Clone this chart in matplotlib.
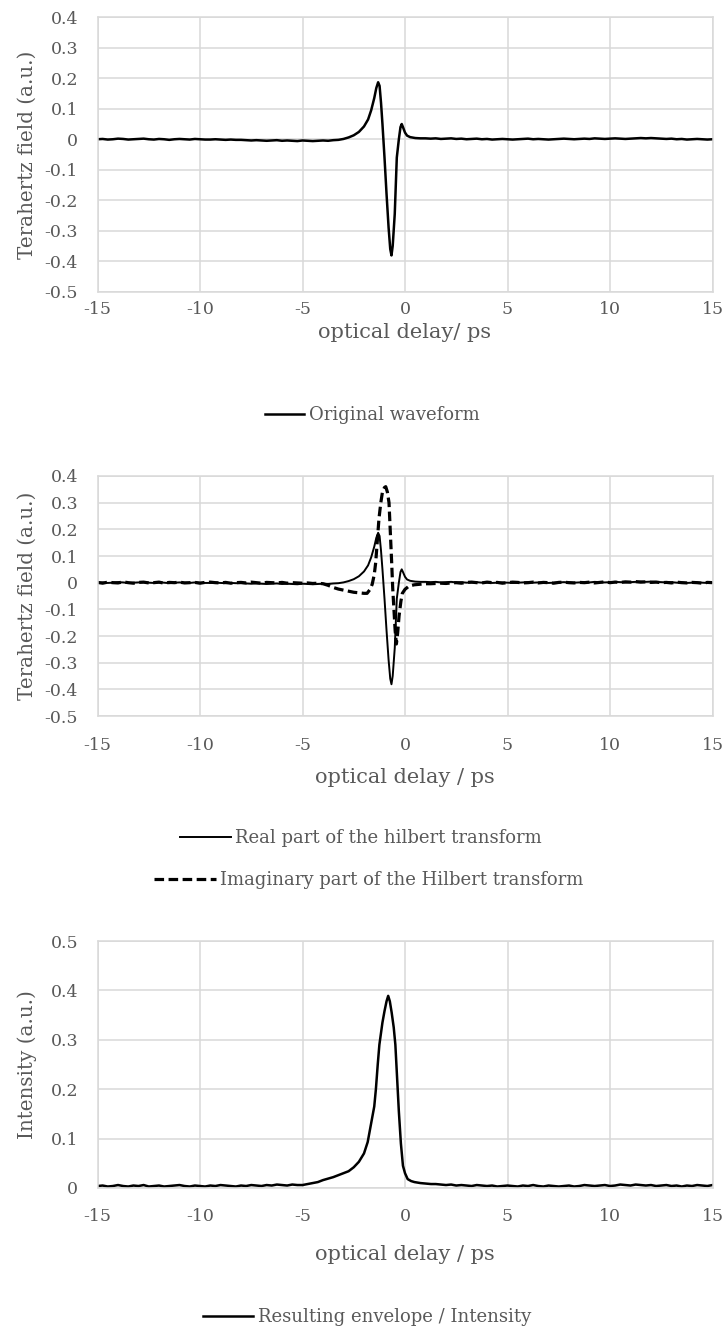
import numpy as np
import matplotlib
matplotlib.use("Agg")
import matplotlib.pyplot as plt
from matplotlib.lines import Line2D

plt.rcParams['font.family'] = ['DejaVu Serif']
plt.rcParams['axes.unicode_minus'] = False

# ---- original waveform (also the real part of the Hilbert transform) ----
wave_left_t = np.linspace(-15, -3.25, 48)
wave_left_y = [0.000, 0.001, -0.001, 0.000, 0.002, 0.001, -0.001, 0.000, 0.001, 0.002,
               0.000, -0.001, 0.001, 0.000, -0.002, 0.000, 0.001, 0.000, -0.001, 0.001,
               0.000, -0.001, -0.001, 0.000, -0.001, -0.002, -0.001, -0.002, -0.002, -0.003,
               -0.004, -0.003, -0.004, -0.005, -0.004, -0.003, -0.005, -0.004, -0.005, -0.006,
               -0.004, -0.005, -0.006, -0.005, -0.004, -0.005, -0.003, -0.002]
wave_pulse_t = [-3.0, -2.75, -2.5, -2.25, -2.0, -1.8, -1.65, -1.5, -1.4, -1.31,
                -1.24, -1.17, -1.1, -1.0, -0.9, -0.8, -0.72, -0.66, -0.6, -0.5,
                -0.4, -0.3, -0.22, -0.16, -0.1, 0.0, 0.1, 0.25, 0.5, 0.75]
wave_pulse_y = [0.001, 0.006, 0.013, 0.024, 0.042, 0.065, 0.095, 0.135, 0.168, 0.187,
                0.175, 0.12, 0.05, -0.06, -0.18, -0.29, -0.36, -0.381, -0.35, -0.245,
                -0.06, 0.0, 0.04, 0.05, 0.04, 0.022, 0.012, 0.007, 0.004, 0.003]
wave_right_t = np.linspace(1, 15, 57)
wave_right_y = [0.003, 0.002, 0.003, 0.001, 0.002, 0.003, 0.001, 0.002, 0.000, 0.001,
                0.002, 0.000, 0.001, -0.001, 0.000, 0.001, 0.000, -0.001, 0.000, 0.001,
                0.002, 0.000, 0.001, 0.000, -0.001, 0.000, 0.001, 0.002, 0.001, 0.000,
                0.001, 0.002, 0.001, 0.003, 0.002, 0.001, 0.002, 0.003, 0.002, 0.001,
                0.002, 0.003, 0.004, 0.003, 0.004, 0.003, 0.002, 0.001, 0.002, 0.000,
                0.001, -0.001, 0.000, 0.001, 0.000, -0.001, 0.000]

# ---- imaginary part of the Hilbert transform ----
imag_left_t = np.linspace(-15, -4, 45)
imag_left_y = [0.001, -0.002, 0.002, 0.000, -0.001, 0.003, 0.000, -0.002, 0.001, 0.002,
               -0.001, 0.000, 0.002, -0.002, 0.001, 0.000, 0.002, -0.001, 0.000, 0.001,
               -0.002, 0.001, 0.002, 0.000, -0.001, 0.001, -0.002, 0.000, 0.001, -0.001,
               0.002, 0.000, -0.002, 0.001, 0.000, -0.001, 0.001, -0.002, 0.000, -0.001,
               -0.002, -0.001, -0.003, -0.002, -0.004]
imag_pulse_t = [-3.75, -3.5, -3.25, -3.0, -2.75, -2.5, -2.25, -2.0, -1.85, -1.7,
                -1.6, -1.5, -1.43, -1.35, -1.27, -1.18, -1.1, -1.0, -0.94, -0.86,
                -0.78, -0.72, -0.65, -0.6, -0.54, -0.48, -0.42, -0.36, -0.29, -0.2,
                -0.13, 0.0, 0.19, 0.45, 0.7, 1.0]
imag_pulse_y = [-0.01, -0.018, -0.024, -0.028, -0.032, -0.036, -0.038, -0.04, -0.04, -0.025,
                -0.006, 0.03, 0.075, 0.16, 0.24, 0.30, 0.34, 0.357, 0.36, 0.34,
                0.30, 0.20, 0.075, -0.02, -0.10, -0.18, -0.23, -0.19, -0.125, -0.07,
                -0.04, -0.025, -0.013, -0.008, -0.006, -0.004]
imag_right_t = np.linspace(1.25, 15, 56)
imag_right_y = [-0.004, -0.003, -0.002, -0.003, -0.001, 0.000, -0.002, 0.001, 0.002, 0.000,
                -0.001, 0.002, 0.000, 0.001, -0.002, 0.000, 0.002, 0.001, -0.001, 0.000,
                0.002, -0.001, 0.001, 0.000, -0.002, 0.001, 0.002, 0.000, -0.001, 0.001,
                0.000, 0.002, -0.001, 0.001, 0.003, 0.000, 0.002, 0.001, 0.003, 0.002,
                0.004, 0.002, 0.003, 0.001, 0.002, 0.000, 0.001, -0.001, 0.002, 0.000,
                -0.001, 0.001, 0.000, -0.002, 0.001, 0.000]

# ---- resulting envelope / intensity ----
env_left_t = np.linspace(-15, -5.25, 40)
env_left_y = [0.004, 0.005, 0.003, 0.004, 0.006, 0.004, 0.003, 0.005, 0.004, 0.006,
              0.003, 0.004, 0.005, 0.003, 0.004, 0.005, 0.006, 0.004, 0.003, 0.005,
              0.004, 0.003, 0.005, 0.004, 0.006, 0.005, 0.004, 0.003, 0.005, 0.004,
              0.006, 0.005, 0.004, 0.006, 0.005, 0.007, 0.006, 0.005, 0.007, 0.006]
env_pulse_t = [-5.0, -4.75, -4.5, -4.25, -4.0, -3.75, -3.5, -3.25, -3.0, -2.75,
               -2.5, -2.25, -2.0, -1.82, -1.7, -1.58, -1.5, -1.42, -1.33, -1.25,
               -1.1, -1.0, -0.9, -0.82, -0.74, -0.65, -0.55, -0.47, -0.4, -0.3,
               -0.2, -0.1, 0.0, 0.13, 0.3, 0.46, 0.75, 1.0, 1.27]
env_pulse_y = [0.006, 0.008, 0.010, 0.012, 0.016, 0.019, 0.022, 0.026, 0.030, 0.034,
               0.042, 0.053, 0.070, 0.093, 0.120, 0.147, 0.165, 0.200, 0.250, 0.290,
               0.335, 0.358, 0.378, 0.389, 0.378, 0.355, 0.325, 0.290, 0.235, 0.155,
               0.090, 0.045, 0.030, 0.018, 0.014, 0.012, 0.010, 0.009, 0.008]
env_right_t = np.linspace(1.5, 15, 55)
env_right_y = [0.008, 0.007, 0.006, 0.007, 0.005, 0.006, 0.005, 0.004, 0.006, 0.005,
               0.004, 0.005, 0.003, 0.004, 0.005, 0.004, 0.003, 0.005, 0.004, 0.006,
               0.004, 0.003, 0.005, 0.004, 0.003, 0.004, 0.005, 0.003, 0.004, 0.006,
               0.005, 0.004, 0.005, 0.006, 0.004, 0.005, 0.007, 0.006, 0.005, 0.007,
               0.006, 0.005, 0.006, 0.004, 0.005, 0.006, 0.004, 0.005, 0.003, 0.005,
               0.004, 0.006, 0.005, 0.004, 0.006]

x_ticks = [-15, -10, -5, 0, 5, 10, 15]
field_ticks = [-0.5, -0.4, -0.3, -0.2, -0.1, 0, 0.1, 0.2, 0.3, 0.4]
field_labels = ["-0.5", "-0.4", "-0.3", "-0.2", "-0.1", "0", "0.1", "0.2", "0.3", "0.4"]
int_ticks = [0, 0.1, 0.2, 0.3, 0.4, 0.5]
int_labels = ["0", "0.1", "0.2", "0.3", "0.4", "0.5"]

wave_t = np.concatenate([wave_left_t, wave_pulse_t, wave_right_t])
wave_y = np.concatenate([wave_left_y, wave_pulse_y, wave_right_y])
imag_t = np.concatenate([imag_left_t, imag_pulse_t, imag_right_t])
imag_y = np.concatenate([imag_left_y, imag_pulse_y, imag_right_y])
env_t = np.concatenate([env_left_t, env_pulse_t, env_right_t])
env_y = np.concatenate([env_left_y, env_pulse_y, env_right_y])

GRID = '#d9d9d9'
TXT = '#595959'
W, H = 728, 1333
LEFT, RIGHT = 97.5, 712.5

fig = plt.figure(figsize=(W / 100, H / 100), dpi=100)


def make_axes(top_px, bottom_px):
    return fig.add_axes([LEFT / W, 1 - bottom_px / H, (RIGHT - LEFT) / W, (bottom_px - top_px) / H])


def style(ax, top_px, bottom_px, yticks, ylabels, ylim, ylabel, xlabel, xpad, xlabel_y):
    ax.set_xlim(-15, 15)
    ax.set_ylim(*ylim)
    ax.set_xticks(x_ticks)
    ax.set_xticklabels([str(v) for v in x_ticks])
    ax.set_yticks(yticks)
    ax.set_yticklabels(ylabels)
    ax.grid(True, color=GRID, lw=1.1)
    ax.set_axisbelow(True)
    for s in ax.spines.values():
        s.set_color(GRID)
        s.set_linewidth(1.1)
    ax.tick_params(length=0, labelsize=12.5, colors=TXT)
    ax.tick_params(axis='y', pad=14)
    ax.tick_params(axis='x', pad=xpad)
    h = bottom_px - top_px
    ax.set_ylabel(ylabel, fontsize=14.3, color=TXT)
    ax.yaxis.set_label_coords((37 - LEFT) / (RIGHT - LEFT), 0.5)
    ax.set_xlabel(xlabel, fontsize=15, color=TXT, va='center')
    ax.xaxis.set_label_coords(0.5, (bottom_px - xlabel_y) / h)


# panel 1
ax1 = make_axes(17.3, 291.7)
ax1.plot(wave_t, wave_y, color='black', lw=1.8)
style(ax1, 17.3, 291.7, field_ticks, field_labels, (-0.5, 0.4),
      'Terahertz field (a.u.)', 'optical delay/ ps', 7, 332)

# panel 2
ax2 = make_axes(476, 716)
ax2.plot(wave_t, wave_y, color='black', lw=1.4)
ax2.plot(imag_t, imag_y, color='black', lw=2.3, linestyle=(0, (3, 1.4)))
style(ax2, 476, 716, field_ticks, field_labels, (-0.5, 0.4),
      'Terahertz field (a.u.)', 'optical delay / ps', 15, 777)

# panel 3
ax3 = make_axes(941, 1188)
ax3.plot(env_t, env_y, color='black', lw=1.8)
style(ax3, 941, 1188, int_ticks, int_labels, (0, 0.5),
      'Intensity (a.u.)', 'optical delay / ps', 14.5, 1254)


def add_legend(label, cx, cy, ls='-', lw=1.8, hl=2.8):
    h = Line2D([], [], color='black', lw=lw, linestyle=ls)
    fig.legend([h], [label], loc='center', bbox_to_anchor=(cx / W, 1 - cy / H),
               frameon=False, fontsize=13, labelcolor=TXT, handlelength=hl,
               handletextpad=0.25, borderpad=0)


add_legend('Original waveform', 372, 415, hl=2.2)
add_legend('Real part of the hilbert transform', 361, 838, lw=1.4, hl=2.8)
add_legend('Imaginary part of the Hilbert transform', 369, 880, ls=(0, (3, 1.4)), lw=2.3, hl=3.4)
add_legend('Resulting envelope / Intensity', 367, 1317, hl=2.8)

fig.savefig('out.png', dpi=100)
